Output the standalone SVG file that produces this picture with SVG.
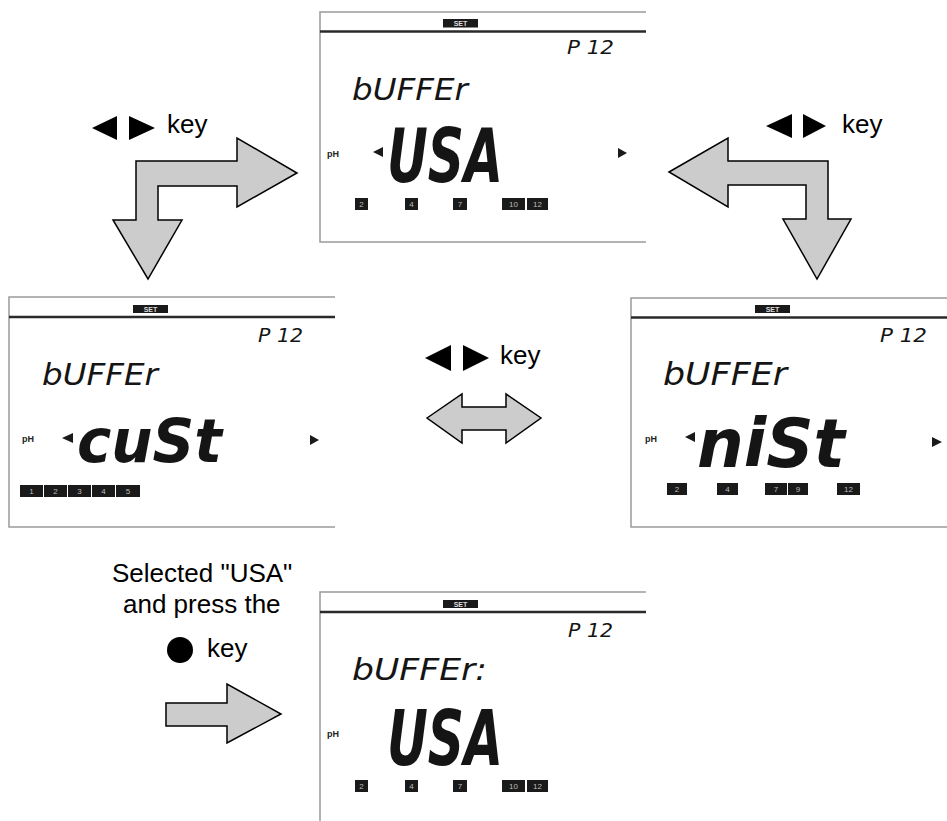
<svg xmlns="http://www.w3.org/2000/svg" width="947" height="821" viewBox="0 0 947 821">
<style>
.bg{fill:#ffffff}
.frame{fill:none;stroke:#9a9a9a;stroke-width:1.5}
.bar{stroke:#2a2a2a;stroke-width:2.5}
.setbox{fill:#1a1a1a}
.sett{font-family:"Liberation Sans",Arial,sans-serif;font-size:7px;fill:#ddd;text-anchor:middle;font-weight:bold}
.seg{font-family:"DejaVu Sans","Liberation Sans",sans-serif;font-weight:bold;font-style:oblique;fill:#151515}
.segl{font-family:"DejaVu Sans","Liberation Sans",sans-serif;font-weight:normal;font-style:oblique;fill:#151515}
.ph{font-family:"Liberation Sans",Arial,sans-serif;font-size:9px;font-weight:bold;fill:#222}
.tri{fill:#1a1a1a}
.box{fill:#1a1a1a}
.boxt{font-family:"Liberation Sans",Arial,sans-serif;font-size:8px;fill:#bbb;text-anchor:middle}
.arrow{fill:#cccccc;stroke:#000;stroke-width:1.5;stroke-linejoin:miter}
.lbl{font-family:"Liberation Sans",Arial,sans-serif;font-size:26px;fill:#000}
.key{fill:#000}
</style>
<rect class="bg" x="0" y="0" width="947" height="821"/>

<!-- Top LCD: USA -->
<g id="lcd-usa" transform="translate(320,12)">
  <path class="frame" d="M326,0 H0 V230 H326"/>
  <line class="bar" x1="0" y1="19.5" x2="326" y2="19.5"/>
  <rect class="setbox" x="123" y="7" width="35" height="8.5"/>
  <text class="sett" x="140.5" y="14">SET</text>
  <text class="segl" x="247" y="42" font-size="20" textLength="47" lengthAdjust="spacingAndGlyphs">P 12</text>
  <text class="segl" x="32" y="88" font-size="31" textLength="116" lengthAdjust="spacingAndGlyphs">bUFFEr</text>
  <text class="ph" x="7" y="145">pH</text>
  <polygon class="tri" points="53,140 63,135 63,145"/>
  <text class="seg" x="67" y="170" font-size="74" textLength="116" lengthAdjust="spacingAndGlyphs">USA</text>
  <polygon class="tri" points="298,136 307,141 298,146"/>
  <rect class="box" x="35" y="186" width="13" height="12"/><text class="boxt" x="41.5" y="195">2</text>
  <rect class="box" x="85" y="186" width="13" height="12"/><text class="boxt" x="91.5" y="195">4</text>
  <rect class="box" x="133" y="186" width="14" height="12"/><text class="boxt" x="140" y="195">7</text>
  <rect class="box" x="182" y="186" width="23" height="12"/><text class="boxt" x="193.5" y="195">10</text>
  <rect class="box" x="207" y="186" width="21" height="12"/><text class="boxt" x="217.5" y="195">12</text>
</g>

<!-- Left LCD: cuSt -->
<g id="lcd-cust" transform="translate(9,297)">
  <path class="frame" d="M326,0 H0 V230 H326"/>
  <line class="bar" x1="0" y1="20" x2="326" y2="20"/>
  <rect class="setbox" x="124" y="8" width="35" height="8"/>
  <text class="sett" x="141.5" y="14.5">SET</text>
  <text class="segl" x="249" y="45" font-size="20" textLength="45" lengthAdjust="spacingAndGlyphs">P 12</text>
  <text class="segl" x="33" y="88" font-size="30" textLength="116" lengthAdjust="spacingAndGlyphs">bUFFEr</text>
  <text class="ph" x="13" y="145">pH</text>
  <polygon class="tri" points="53,141 64,136 64,146"/>
  <text class="seg" x="68" y="165" font-size="60" textLength="145" lengthAdjust="spacingAndGlyphs">cuSt</text>
  <polygon class="tri" points="301,138 310,143 301,148"/>
  <rect class="box" x="11" y="188" width="23" height="12"/><text class="boxt" x="22.5" y="197">1</text>
  <rect class="box" x="35" y="188" width="23" height="12"/><text class="boxt" x="46.5" y="197">2</text>
  <rect class="box" x="59" y="188" width="23" height="12"/><text class="boxt" x="70.5" y="197">3</text>
  <rect class="box" x="83" y="188" width="23" height="12"/><text class="boxt" x="94.5" y="197">4</text>
  <rect class="box" x="107" y="188" width="24" height="12"/><text class="boxt" x="119" y="197">5</text>
</g>

<!-- Right LCD: niSt -->
<g id="lcd-nist" transform="translate(631,298)">
  <path class="frame" d="M320,0 H0 V229 H320"/>
  <line class="bar" x1="0" y1="19.5" x2="320" y2="19.5"/>
  <rect class="setbox" x="124" y="7" width="35" height="8"/>
  <text class="sett" x="141.5" y="13.5">SET</text>
  <text class="segl" x="249" y="44" font-size="20" textLength="47" lengthAdjust="spacingAndGlyphs">P 12</text>
  <text class="segl" x="32" y="87" font-size="32" textLength="124" lengthAdjust="spacingAndGlyphs">bUFFEr</text>
  <text class="ph" x="14" y="144">pH</text>
  <polygon class="tri" points="54,139 64,134 64,144"/>
  <text class="seg" x="66" y="169" font-size="67" textLength="148" lengthAdjust="spacingAndGlyphs">niSt</text>
  <polygon class="tri" points="301,139 311,144 301,149"/>
  <rect class="box" x="36" y="185" width="20" height="12"/><text class="boxt" x="46" y="194">2</text>
  <rect class="box" x="86" y="185" width="21" height="12"/><text class="boxt" x="96.5" y="194">4</text>
  <rect class="box" x="134" y="185" width="22" height="12"/><text class="boxt" x="145" y="194">7</text>
  <rect class="box" x="157" y="185" width="20" height="12"/><text class="boxt" x="167" y="194">9</text>
  <rect class="box" x="206" y="185" width="23" height="12"/><text class="boxt" x="217.5" y="194">12</text>
</g>

<!-- Bottom LCD: result -->
<g id="lcd-result" transform="translate(320,592)">
  <path class="frame" d="M326,0 H0 V232"/>
  <line class="bar" x1="0" y1="20" x2="326" y2="20"/>
  <rect class="setbox" x="123" y="8" width="35" height="8"/>
  <text class="sett" x="140.5" y="14.5">SET</text>
  <text class="segl" x="248" y="45" font-size="20" textLength="45" lengthAdjust="spacingAndGlyphs">P 12</text>
  <text class="segl" x="32" y="88" font-size="30" textLength="135" lengthAdjust="spacingAndGlyphs">bUFFEr:</text>
  <text class="ph" x="7" y="145">pH</text>
  <text class="seg" x="67" y="173" font-size="76" textLength="116" lengthAdjust="spacingAndGlyphs">USA</text>
  <rect class="box" x="35" y="188" width="13" height="12"/><text class="boxt" x="41.5" y="197">2</text>
  <rect class="box" x="85" y="188" width="13" height="12"/><text class="boxt" x="91.5" y="197">4</text>
  <rect class="box" x="133" y="188" width="14" height="12"/><text class="boxt" x="140" y="197">7</text>
  <rect class="box" x="182" y="188" width="23" height="12"/><text class="boxt" x="193.5" y="197">10</text>
  <rect class="box" x="207" y="188" width="21" height="12"/><text class="boxt" x="217.5" y="197">12</text>
</g>

<!-- Connectors -->
<g id="connectors">
  <path id="arrow-left" class="arrow" d="M136,220 L113,220 L148,279 L182,220 L158,220 L158,186 L237,186 L237,207 L297,173 L237,138 L237,161 L136,161 Z"/>
  <path id="arrow-right" class="arrow" d="M669,172 L728,138 L728,161 L828,161 L828,219 L851,219 L817,279 L783,219 L806,219 L806,185 L728,185 L728,207 Z"/>
  <path id="arrow-double" class="arrow" d="M427,418 L462,394 L462,407 L506,407 L506,394 L541,418 L506,443 L506,430 L462,430 L462,443 Z"/>
  <path id="arrow-select" class="arrow" d="M166,703 L227,703 L227,684 L281,714 L227,743 L227,726 L166,726 Z"/>
</g>

<!-- Labels -->
<g id="label-left">
  <polygon class="key" points="92,128 117,116 117,140"/>
  <polygon class="key" points="129,116 155,128 129,140"/>
  <text class="lbl" x="167" y="133">key</text>
</g>
<g id="label-right">
  <polygon class="key" points="766,126 792,114 792,138"/>
  <polygon class="key" points="803,114 826,126 803,138"/>
  <text class="lbl" x="842" y="133">key</text>
</g>
<g id="label-middle">
  <polygon class="key" points="425,358 451,345 451,371"/>
  <polygon class="key" points="463,345 489,358 463,371"/>
  <text class="lbl" x="500" y="364">key</text>
</g>
<g id="label-select">
  <text class="lbl" x="112" y="582">Selected "USA"</text>
  <text class="lbl" x="123" y="613">and press the</text>
  <circle class="key" cx="180" cy="650" r="13"/>
  <text class="lbl" x="207" y="657">key</text>
</g>
</svg>
